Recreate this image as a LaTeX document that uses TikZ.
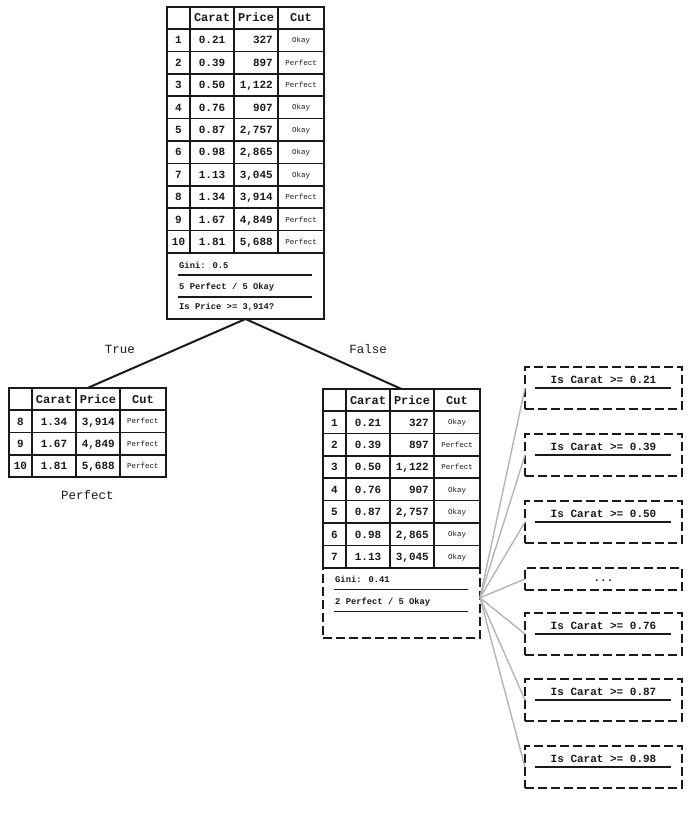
\documentclass[tikz,border=0pt]{standalone}
\usepackage{fontspec}
\setmainfont{Liberation Mono}
\usetikzlibrary{positioning}
\definecolor{inkblack}{HTML}{1A1A1A}
\definecolor{fangrey}{HTML}{B4B4B4}
\newcommand{\hdrfont}{\fontsize{12}{12}\selectfont\bfseries}
\newcommand{\numfont}{\fontsize{11}{11}\selectfont\bfseries}
\newcommand{\cutfont}{\fontsize{7.5}{8}\selectfont}
\newcommand{\statfont}{\fontsize{8.8}{9}\selectfont\bfseries}
\newcommand{\splitfont}{\fontsize{11}{11}\selectfont\bfseries}
\newcommand{\lblfont}{\fontsize{12.5}{13}\selectfont}
\tikzset{
  tablebox/.style={draw=inkblack, line width=2.2pt, anchor=north west,
    minimum width=157pt, inner sep=0pt, outer sep=0pt},
  statbox/.style={draw=inkblack, line width=1.8pt, dash pattern=on 9pt off 4pt,
    minimum width=157pt, minimum height=70pt, inner sep=0pt, outer sep=0pt},
  splitbox/.style={statbox, anchor=north west, minimum height=42pt},
  gridline/.style={inkblack, line width=1.6pt},
  ruleline/.style={inkblack, line width=1.1pt},
  treeedge/.style={inkblack, line width=2pt},
  fanline/.style={fangrey, line width=1.4pt},
  hdrtext/.style={inner sep=0pt, anchor=base, text=inkblack, font=\hdrfont},
  numtext/.style={inner sep=0pt, anchor=base, text=inkblack, font=\numfont},
  cuttext/.style={inner sep=0pt, anchor=base, text=inkblack, font=\cutfont},
  stattext/.style={inner sep=0pt, anchor=west, text=inkblack, font=\statfont},
  splittext/.style={inner sep=0pt, anchor=base, text=inkblack, font=\splitfont},
  lbltext/.style={inner sep=0pt, text=inkblack, font=\lblfont}
}
% one table of diamonds: #1 name, #2 top-left corner, #3 box height, #4 rows
\newcommand{\cuttable}[4]{%
  \node[tablebox, minimum height=#3] (#1) at #2 {};
  \begin{scope}[shift={(#1.north west)}]
    \draw[gridline] (0,22) -- (157,22)
      (23,0) -- (23,22) (67,0) -- (67,22) (111,0) -- (111,22);
    \node[hdrtext] (#1-hcarat) at (45,15) {Carat};
    \node[hdrtext] (#1-hprice) at (89,15) {Price};
    \node[hdrtext] (#1-hcut) at (134,15) {Cut};
    \foreach \n/\c/\p/\k [count=\i] in {#4} {
      \pgfmathsetmacro\rtop{22+22.4*(\i-1)}
      \pgfmathsetmacro\rmid{\rtop+11.2}
      \pgfmathsetmacro\rbot{\rtop+22.4}
      \draw[gridline] (0,\rbot) -- (157,\rbot)
        (23,\rtop) -- (23,\rbot) (67,\rtop) -- (67,\rbot) (111,\rtop) -- (111,\rbot);
      \node[numtext] (#1-\n-id) at (11.5,\rmid+3.8) {\n};
      \node[numtext] (#1-\n-carat) at (45,\rmid+3.8) {\c};
      \node[numtext, anchor=base east] (#1-\n-price) at (106,\rmid+3.8) {\p};
      \node[cuttext] (#1-\n-cut) at (134,\rmid+2.6) {\k};
    }
  \end{scope}}
% gini and class counts under a table
\newcommand{\ginistats}[3]{%
  \begin{scope}[shift={(#1)}]
    \node[stattext] (#1-gini) at (12,12) {#2};
    \draw[ruleline] (11,22) -- (145,22);
    \node[stattext] (#1-count) at (12,34) {#3};
    \draw[ruleline] (11,44) -- (145,44);
  \end{scope}}

\begin{document}
\begin{tikzpicture}[x=1pt,y=-1pt]
  \useasboundingbox (0,0) rectangle (695,813);

  % root node
  \cuttable{main}{(167,7)}{312pt}{1/0.21/327/Okay, 2/0.39/897/Perfect,
    3/0.50/{1,122}/Perfect, 4/0.76/907/Okay, 5/0.87/{2,757}/Okay,
    6/0.98/{2,865}/Okay, 7/1.13/{3,045}/Okay, 8/1.34/{3,914}/Perfect,
    9/1.67/{4,849}/Perfect, 10/1.81/{5,688}/Perfect}
  \coordinate (mainstats) at ([yshift=-246pt]main.north west);
  \ginistats{mainstats}{Gini: 0.5}{5 Perfect / 5 Okay}
  \node[stattext] (mainquestion) at (179,307) {Is Price >= 3,914?};

  % true branch
  \cuttable{truetab}{(9,388)}{89.2pt}{8/1.34/{3,914}/Perfect,
    9/1.67/{4,849}/Perfect, 10/1.81/{5,688}/Perfect}
  \node[lbltext, below=13pt of truetab] (leafperfect) {Perfect};

  % false branch
  \cuttable{falsetab}{(323,389)}{178.8pt}{1/0.21/327/Okay, 2/0.39/897/Perfect,
    3/0.50/{1,122}/Perfect, 4/0.76/907/Okay, 5/0.87/{2,757}/Okay,
    6/0.98/{2,865}/Okay, 7/1.13/{3,045}/Okay}
  \node[statbox, below=0pt of falsetab] (falsegini) {};
  \coordinate (falsestats) at (falsegini.north west);
  \ginistats{falsestats}{Gini: 0.41}{2 Perfect / 5 Okay}

  \draw[treeedge] (main.south) -- (truetab.north);
  \draw[treeedge] (main.south) -- (falsetab.north);
  \node[lbltext] (truelbl) at (120,349) {True};
  \node[lbltext] (falselbl) at (368,349) {False};

  % candidate splits
  \foreach \nm/\t/\v in {splitA/367/0.21, splitB/434/0.39, splitC/501/0.50,
      splitE/613/0.76, splitF/679/0.87, splitG/746/0.98} {
    \node[splitbox] (\nm) at (525,\t) {};
    \node[splittext] (\nm-q) at (603.5,\t+16) {Is Carat >= \v};
    \draw[ruleline] (535,\t+21) -- (671,\t+21);
  }
  \node[splitbox, minimum height=22pt] (splitD) at (525,568) {};
  \node[splittext] (splitD-q) at (603.5,581) {...};

  \coordinate (fan) at ([yshift=5pt]falsegini.east);
  \foreach \nm in {splitA, splitB, splitC, splitD, splitE, splitF, splitG}
    \draw[fanline] (fan) -- (\nm.west);
\end{tikzpicture}
\end{document}
